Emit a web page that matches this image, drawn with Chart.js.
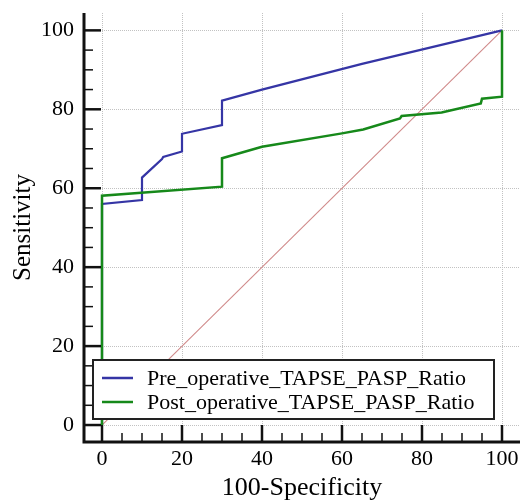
<!DOCTYPE html>
<html>
<head>
<meta charset="utf-8">
<script src="https://cdn.jsdelivr.net/npm/chart.js@4/dist/chart.umd.min.js"></script>
<style>
  html, body { margin: 0; padding: 0; background: #fff; }
  #wrap { width: 522px; height: 501px; }
</style>
</head>
<body>
<div id="wrap"><canvas id="roc"></canvas></div>
<script>
// ─── Datos ────────────────────────────────────────────────────
const xTicks = [0, 20, 40, 60, 80, 100];
const yTicks = [0, 20, 40, 60, 80, 100];

const preLabel  = "Pre_operative_TAPSE_PASP_Ratio";
const preX      = [0, 0, 10, 10, 15, 15.3, 20, 20, 30, 30, 40, 65, 100];
const preY      = [0, 56, 57, 62.7, 67.4, 67.9, 69.3, 73.8, 76, 82.2, 85, 91.5, 100];

const postLabel = "Post_operative_TAPSE_PASP_Ratio";
const postX     = [0, 0, 30, 30, 40, 60, 65.3, 74.5, 74.9, 84.9, 94.7, 95, 100, 100];
const postY     = [0, 58.1, 60.4, 67.6, 70.5, 73.9, 74.9, 77.7, 78.3, 79.2, 81.5, 82.7, 83.2, 100];

const diagX = [0, 100];
const diagY = [0, 100];

const pts = (xs, ys) => xs.map((v, i) => ({ x: v, y: ys[i] }));

const SERIF = "'Liberation Serif', 'Times New Roman', serif";
const BLUE  = "#3535a5";
const GREEN = "#16891a";

// ─── Ejes, grilla y leyenda dibujados a mano ──────────────────
const rocDecor = {
  id: "rocDecor",
  beforeDatasetsDraw(chart) {
    const { ctx, chartArea: a, scales: { x, y } } = chart;
    ctx.save();
    ctx.strokeStyle = "#c2c2c2";
    ctx.lineWidth = 1;
    ctx.setLineDash([1, 1]);
    xTicks.forEach(v => {
      const px = Math.round(x.getPixelForValue(v)) + 0.5;
      ctx.beginPath(); ctx.moveTo(px, a.top); ctx.lineTo(px, a.bottom); ctx.stroke();
    });
    yTicks.forEach(v => {
      const py = Math.round(y.getPixelForValue(v)) + 0.5;
      ctx.beginPath(); ctx.moveTo(a.left, py); ctx.lineTo(a.right, py); ctx.stroke();
    });
    ctx.restore();
  },
  afterDatasetsDraw(chart) {
    const { ctx, chartArea: a, scales: { x, y } } = chart;
    ctx.save();
    ctx.strokeStyle = "#111";
    ctx.setLineDash([]);

    // marcas hacia adentro, cada 5
    for (let v = 0; v <= 100; v += 5) {
      const major = v % 20 === 0;
      ctx.lineWidth = major ? 2.5 : 1.5;
      const len = major ? 17 : 9;
      const px = x.getPixelForValue(v);
      ctx.beginPath(); ctx.moveTo(px, a.bottom); ctx.lineTo(px, a.bottom - len); ctx.stroke();
      const py = y.getPixelForValue(v);
      ctx.beginPath(); ctx.moveTo(a.left, py); ctx.lineTo(a.left + len, py); ctx.stroke();
    }

    // bordes izquierdo e inferior
    ctx.lineWidth = 3;
    ctx.beginPath();
    ctx.moveTo(a.left, a.top);
    ctx.lineTo(a.left, a.bottom);
    ctx.lineTo(a.right, a.bottom);
    ctx.stroke();

    // leyenda
    const bx = a.left + 9, by = a.bottom - 82, bw = 401, bh = 59;
    ctx.fillStyle = "#fff";
    ctx.fillRect(bx, by, bw, bh);
    ctx.lineWidth = 2;
    ctx.strokeStyle = "#222";
    ctx.strokeRect(bx, by, bw, bh);

    const items = chart.data.datasets.filter(d => d.label);
    ctx.font = "22px " + SERIF;
    ctx.textBaseline = "middle";
    ctx.textAlign = "left";
    items.forEach((d, i) => {
      const ly = by + 18 + i * 24;
      ctx.strokeStyle = d.borderColor;
      ctx.lineWidth = 2.5;
      ctx.beginPath(); ctx.moveTo(bx + 9, ly); ctx.lineTo(bx + 40, ly); ctx.stroke();
      ctx.fillStyle = "#000";
      ctx.fillText(d.label, bx + 54, ly + 1);
    });
    ctx.restore();
  }
};

// ─── Gráfico ──────────────────────────────────────────────────
new Chart(document.getElementById("roc"), {
  type: "scatter",
  data: {
    datasets: [
      { label: preLabel, data: pts(preX, preY), showLine: true, borderColor: BLUE,
        borderWidth: 2.2, pointRadius: 0, tension: 0, order: 1 },
      { label: postLabel, data: pts(postX, postY), showLine: true, borderColor: GREEN,
        borderWidth: 2.5, pointRadius: 0, tension: 0, order: 0 },
      { label: "", data: pts(diagX, diagY), showLine: true, borderColor: "#d08a8a",
        borderWidth: 1.1, pointRadius: 0, tension: 0, order: 2 }
    ]
  },
  options: {
    responsive: true, maintainAspectRatio: false, animation: false,
    devicePixelRatio: 1,
    layout: { padding: { top: 13, right: 2, left: 0, bottom: 0 } },
    plugins: { legend: { display: false }, tooltip: { enabled: false } },
    scales: {
      x: {
        type: "linear", min: -4.5, max: 104.5,
        afterBuildTicks: s => { s.ticks = xTicks.map(v => ({ value: v })); },
        afterFit: s => { s.height = 59; s.paddingLeft = 0; s.paddingRight = 0; },
        grid: { display: false, drawTicks: false },
        border: { display: false },
        ticks: { color: "#000", padding: 6, maxRotation: 0, autoSkip: false,
                 font: { family: SERIF, size: 22, lineHeight: 1 } },
        title: { display: true, text: "100-Specificity", color: "#000",
                 padding: { top: 0, bottom: 0 },
                 font: { family: SERIF, size: 26, lineHeight: 1 } }
      },
      y: {
        type: "linear", min: -4.3, max: 104.4,
        afterBuildTicks: s => { s.ticks = yTicks.map(v => ({ value: v })); },
        afterFit: s => { s.width = 84; s.paddingTop = 0; s.paddingBottom = 0; },
        grid: { display: false, drawTicks: false },
        border: { display: false },
        ticks: { color: "#000", padding: 10, autoSkip: false,
                 font: { family: SERIF, size: 22, lineHeight: 1 } },
        title: { display: true, text: "Sensitivity", color: "#000",
                 padding: { top: 11, bottom: 0 },
                 font: { family: SERIF, size: 25, lineHeight: 1 } }
      }
    }
  },
  plugins: [rocDecor]
});
</script>
</body>
</html>
